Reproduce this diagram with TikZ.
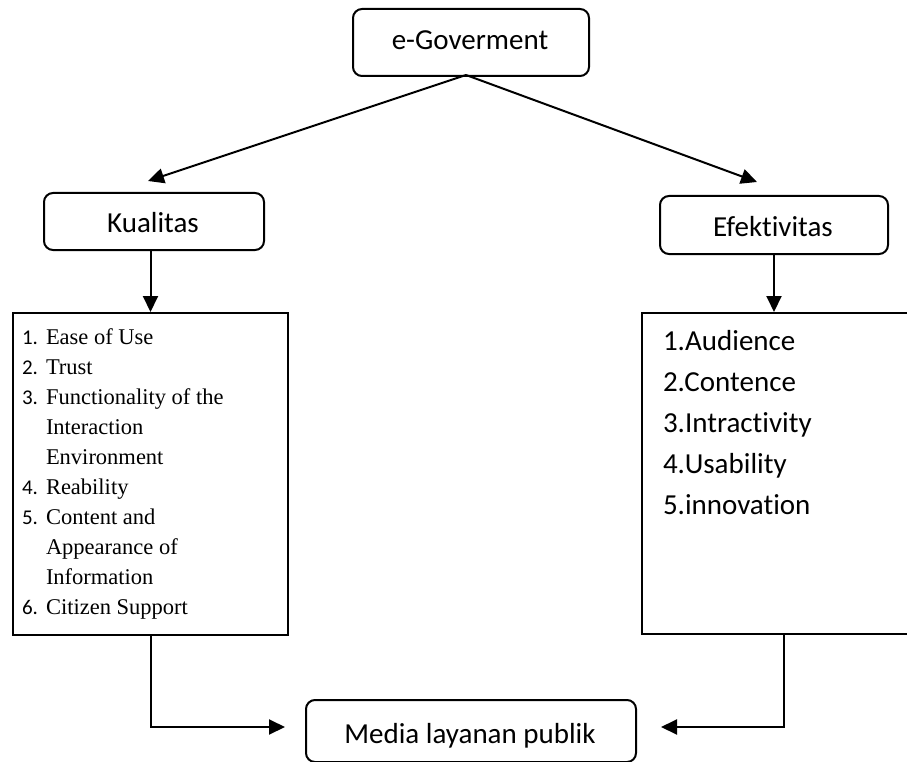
\documentclass[tikz,border=0pt]{standalone}
\usepackage{fontspec}
\setmainfont{Liberation Serif}
\newfontfamily\calfont[Ligatures={NoCommon}]{Carlito}
\usetikzlibrary{arrows.meta}
\begin{document}
\begin{tikzpicture}[x=1pt,y=-1pt,
  line width=2pt,
  rbox/.style={draw, rounded corners=9pt, inner sep=0pt, anchor=north west},
  sbox/.style={draw, inner sep=0pt, anchor=north west},
  hd/.style={font=\calfont\fontsize{29}{29}\selectfont, anchor=base, inner sep=0pt},
  rl/.style={font=\calfont\fontsize{29}{29}\selectfont, anchor=base west, inner sep=0pt},
  ln/.style={font=\calfont\fontsize{21}{21}\selectfont, anchor=base west, inner sep=0pt},
  lt/.style={font=\fontsize{22.5}{22.5}\selectfont, anchor=base west, inner sep=0pt},
  arr/.style={-{Triangle[length=16pt,width=15pt]}}
]
\useasboundingbox (0,0) rectangle (907,762);
\clip (0,0) rectangle (907,762);

% boxes
\node[rbox, minimum width=236pt, minimum height=67pt] (eg) at (352,8) {};
\node[hd] (egt) at (470,50) {e-Goverment};

\node[rbox, minimum width=220pt, minimum height=57pt] (kq) at (43,192) {};
\node[hd] (kqt) at (153,232) {Kualitas};

\node[rbox, minimum width=228pt, minimum height=58pt] (ef) at (659,195) {};
\node[hd] (eft) at (773,236) {Efektivitas};

\node[sbox, minimum width=275pt, minimum height=322pt] (lb) at (12,312) {};
\node[sbox, minimum width=284pt, minimum height=321pt] (rb) at (641,312) {};

\node[rbox, minimum width=330pt, minimum height=62pt] (md) at (305,699) {};
\node[hd] (mdt) at (470,743) {Media layanan publik};

% left list
\node[ln] (n1) at (21,344) {1.}; \node[lt] (t1) at (45,344) {Ease of Use};
\node[ln] (n2) at (21,374) {2.}; \node[lt] (t2) at (45,374) {Trust};
\node[ln] (n3) at (21,404) {3.}; \node[lt] (t3) at (45,404) {Functionality of the};
\node[lt] (t3b) at (45,434) {Interaction};
\node[lt] (t3c) at (45,464) {Environment};
\node[ln] (n4) at (21,494) {4.}; \node[lt] (t4) at (45,494) {Reability};
\node[ln] (n5) at (21,524) {5.}; \node[lt] (t5) at (45,524) {Content and};
\node[lt] (t5b) at (45,554) {Appearance of};
\node[lt] (t5c) at (45,584) {Information};
\node[ln] (n6) at (21,614) {6.}; \node[lt] (t6) at (45,614) {Citizen Support};

% right list
\node[rl] (r1) at (662,350) {1.Audience};
\node[rl] (r2) at (662,391) {2.Contence};
\node[rl] (r3) at (662,432) {3.Intractivity};
\node[rl] (r4) at (662,473) {4.Usability};
\node[rl] (r5) at (662,514) {5.innovation};

% connectors
\coordinate (kqtip) at (148,181);
\coordinate (eftip) at (757,182);
\coordinate (apex) at (466,75);
\draw[arr] (apex) -- (kqtip);
\draw[arr] (apex) -- (eftip);

\draw[arr] (kq.south -| lb.north) -- (lb.north);
\draw[arr] (ef.south) -- (ef.south |- rb.north);

\coordinate (mdl) at (285,727);
\coordinate (mdr) at (661,727);
\draw[arr] (lb.south) |- (mdl);
\draw[arr] (rb.south) |- (mdr);
\end{tikzpicture}
\end{document}
